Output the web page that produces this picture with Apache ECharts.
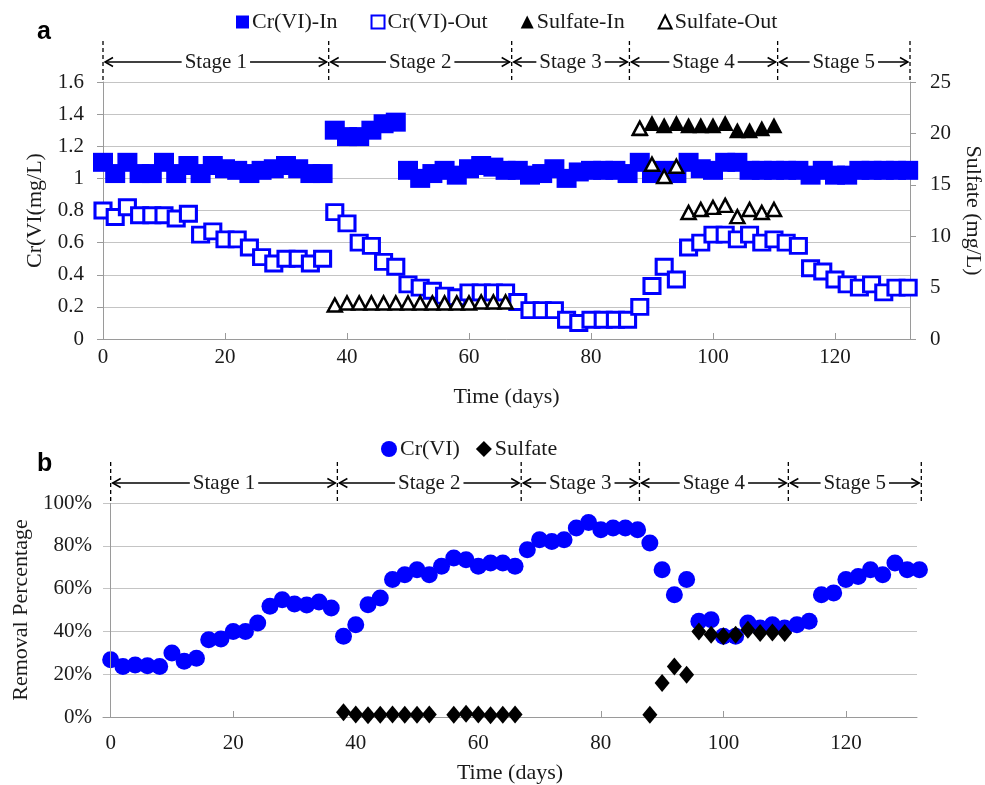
<!DOCTYPE html>
<html><head><meta charset="utf-8">
<script src="https://cdn.jsdelivr.net/npm/echarts@6/dist/echarts.min.js"></script>
<style>html,body{margin:0;padding:0;background:#fff}#main{width:985px;height:785px}</style>
</head><body><div id="main"></div>
<script>
// ---- data ----
const days = [0,2,4,6,8,10,12,14,16,18,20,22,24,26,28,30,32,34,36,38,40,42,44,46,48,50,52,54,56,58,60,62,64,66,68,70,72,74,76,78,80,82,84,86,88,90,92,94,96,98,100,102,104,106,108,110,112,114,116,118,120,122,124,126,128,130,132];
const crIn = [1.10,1.03,1.10,1.03,1.03,1.10,1.03,1.08,1.03,1.08,1.06,1.05,1.03,1.05,1.06,1.08,1.06,1.03,1.03,
  1.30,1.26,1.26,1.30,1.34,1.35,
  1.05,1.00,1.03,1.05,1.02,1.06,1.08,1.07,1.05,1.05,1.02,1.03,1.06,1.00,1.04,1.05,1.05,1.05,1.03,
  1.10,1.03,1.05,1.03,1.10,1.06,1.05,1.10,1.10,1.05,1.05,1.05,1.05,1.05,1.02,1.05,1.02,1.02,1.05,1.05,1.05,1.05,1.05];
const crOut = [0.80,0.76,0.82,0.77,0.77,0.77,0.75,0.78,0.65,0.67,0.62,0.62,0.57,0.51,0.47,0.50,0.50,0.47,0.50,
  0.79,0.72,0.60,0.58,0.48,0.45,0.34,0.32,0.30,0.27,0.26,0.29,0.29,0.29,0.29,
  0.23,0.18,0.18,0.18,0.12,0.10,0.12,0.12,0.12,0.12,
  0.20,0.33,0.45,0.37,0.57,0.60,0.65,0.65,0.62,0.65,0.60,0.62,0.60,0.58,0.44,0.42,0.37,0.34,0.32,0.34,0.29,0.32,0.32];
const sulfInDays = [88,90,92,94,96,98,100,102,104,106,108,110];
const sulfIn = [20.5,21.0,20.8,21.0,20.8,20.8,20.8,21.0,20.3,20.3,20.5,20.8];
const sulfOutDays = [38,40,42,44,46,48,50,52,54,56,58,60,62,64,66,88,90,92,94,96,98,100,102,104,106,108,110];
const sulfOut = [3.3,3.5,3.5,3.5,3.5,3.5,3.5,3.5,3.5,3.5,3.5,3.5,3.6,3.6,3.6,20.5,17.0,15.8,16.8,12.3,12.6,12.8,13.0,11.9,12.6,12.3,12.6];
const remCr = [26.8,23.6,24.3,24.0,23.6,29.9,26.0,27.5,36.1,36.5,40.0,40.0,43.9,51.7,54.8,52.8,52.3,53.7,50.9,
  37.7,43.1,52.5,55.6,64.2,66.5,68.8,66.5,70.4,74.3,73.5,70.4,72.0,72.0,70.4,
  78.2,82.8,82.0,82.8,88.3,90.9,87.5,88.3,88.3,87.5,
  81.3,68.8,57.1,64.2,44.7,45.4,37.7,37.7,43.9,41.6,43.1,41.6,43.1,44.7,57.1,58.0,64.2,65.7,68.8,66.5,72.0,68.8,68.8];
const remSulfDays = [38,40,42,44,46,48,50,52,56,58,60,62,64,66,88,90,92,94,96,98,100,102,104,106,108,110];
const remSulf = [2.2,1.2,0.8,1.0,1.2,1.0,1.0,1.2,1.0,1.5,1.2,0.8,1.0,1.2,1.0,15.9,23.6,19.8,40.0,38.4,37.7,38.4,40.8,39.2,39.5,39.2];
const stageBounds = [0,37,67,86.3,110.6,132.3];
const stageNames = ['Stage 1','Stage 2','Stage 3','Stage 4','Stage 5'];
const xTicks = [0,20,40,60,80,100,120];

// ---- chart ----
const FONT = '"Liberation Serif","Times New Roman",serif';
const pair = (xs, ys) => xs.map((x, i) => [x, ys[i]]);
const lbl = {fontFamily: FONT, fontSize: 21, color: '#1a1a1a'};
const nm = {fontFamily: FONT, fontSize: 22, color: '#1a1a1a'};
const gridCol = '#c4c4c4', axisCol = '#9a9a9a';
const BLUE = '#0000ff';

const chart = echarts.init(document.getElementById('main'));
const option = {
  animation: false,
  title: [
    {text: 'a', left: 32, top: 15, textStyle: {fontFamily: '"Liberation Sans",Arial,sans-serif', fontWeight: 'bold', fontSize: 25, color: '#000'}},
    {text: 'b', left: 32, top: 447, textStyle: {fontFamily: '"Liberation Sans",Arial,sans-serif', fontWeight: 'bold', fontSize: 25, color: '#000'}}
  ],
  legend: [
    {data: ['Cr(VI)-In','Cr(VI)-Out','Sulfate-In','Sulfate-Out'], left: 231, top: 6, itemWidth: 13, itemHeight: 13, itemGap: 33,
     textStyle: {fontFamily: FONT, fontSize: 22, color: '#1a1a1a', padding: [0,0,0,-2]}},
    {data: ['Cr(VI)','Sulfate'], left: 376, top: 433, itemWidth: 16, itemHeight: 16, itemGap: 16,
     textStyle: {fontFamily: FONT, fontSize: 22, color: '#1a1a1a', padding: [0,0,0,-2]}}
  ],
  grid: [
    {left: 103, top: 82, width: 807, height: 257, outerBoundsMode: 'none'},
    {left: 103, top: 503, width: 814, height: 214, outerBoundsMode: 'none'}
  ],
  xAxis: [
    {type: 'value', gridIndex: 0, min: 0, max: 132.3, splitLine: {show: false},
     axisLine: {lineStyle: {color: axisCol}}, axisTick: {inside: true, length: 6, customValues: xTicks, lineStyle: {color: axisCol}},
     axisLabel: Object.assign({customValues: xTicks, margin: 8}, lbl),
     name: 'Time (days)', nameLocation: 'middle', nameGap: 47, nameTextStyle: nm},
    {type: 'value', gridIndex: 1, min: -1.25, max: 131.6, splitLine: {show: false},
     axisLine: {lineStyle: {color: axisCol}}, axisTick: {inside: true, length: 6, customValues: xTicks, lineStyle: {color: axisCol}},
     axisLabel: Object.assign({customValues: xTicks, margin: 16}, lbl),
     name: 'Time (days)', nameLocation: 'middle', nameGap: 45, nameTextStyle: nm}
  ],
  yAxis: [
    {type: 'value', gridIndex: 0, min: 0, max: 1.6, interval: 0.2,
     axisLine: {show: true, lineStyle: {color: axisCol}}, axisTick: {show: true, length: 6, lineStyle: {color: axisCol}},
     splitLine: {lineStyle: {color: gridCol, width: 1.2}},
     axisLabel: Object.assign({margin: 19}, lbl),
     name: 'Cr(VI(mg/L)', nameLocation: 'middle', nameGap: 57, nameTextStyle: nm},
    {type: 'value', gridIndex: 0, position: 'right', min: 0, max: 25, interval: 5,
     axisLine: {show: true, lineStyle: {color: axisCol}}, axisTick: {show: true, length: 6, lineStyle: {color: axisCol}},
     splitLine: {show: false},
     axisLabel: Object.assign({margin: 20}, lbl),
     name: 'Sulfate (mg/L)', nameLocation: 'middle', nameGap: 47, nameRotate: -90, nameTextStyle: nm},
    {type: 'value', gridIndex: 1, min: 0, max: 100, interval: 20,
     axisLine: {show: false}, axisTick: {show: false},
     splitLine: {lineStyle: {color: gridCol, width: 1.2}},
     axisLabel: Object.assign({margin: 11, formatter: '{value}%'}, lbl),
     name: 'Removal Percentage', nameLocation: 'middle', nameGap: 70, nameTextStyle: nm}
  ],
  series: [
    {name: 'Cr(VI)-In', type: 'scatter', xAxisIndex: 0, yAxisIndex: 0, clip: false, symbol: 'rect', symbolSize: [20,19],
     itemStyle: {color: BLUE, opacity: 1}, data: pair(days, crIn)},
    {name: 'Cr(VI)-Out', type: 'scatter', xAxisIndex: 0, yAxisIndex: 0, clip: false, symbol: 'rect', symbolSize: [16,15],
     itemStyle: {color: '#fff', borderColor: BLUE, borderWidth: 3, opacity: 1}, data: pair(days, crOut)},
    {name: 'Sulfate-In', type: 'scatter', xAxisIndex: 0, yAxisIndex: 1, clip: false, symbol: 'triangle', symbolSize: [17,16],
     itemStyle: {color: '#000', opacity: 1}, data: pair(sulfInDays, sulfIn)},
    {name: 'Sulfate-Out', type: 'scatter', xAxisIndex: 0, yAxisIndex: 1, clip: false, symbol: 'triangle', symbolSize: [14,13],
     itemStyle: {color: '#fff', borderColor: '#000', borderWidth: 2.5, opacity: 1}, data: pair(sulfOutDays, sulfOut)},
    {name: 'Cr(VI)', type: 'scatter', xAxisIndex: 1, yAxisIndex: 2, clip: false, symbol: 'circle', symbolSize: 17,
     itemStyle: {color: BLUE, opacity: 1}, data: pair(days, remCr),
     markLine: {silent: true, symbol: 'none', label: {show: false}, lineStyle: {color: axisCol, type: 'solid', width: 1}, data: [{xAxis: 0}]}},
    {name: 'Sulfate', type: 'scatter', xAxisIndex: 1, yAxisIndex: 2, clip: false, symbol: 'diamond', symbolSize: [15,18],
     itemStyle: {color: '#000', opacity: 1}, data: pair(remSulfDays, remSulf)}
  ]
};
chart.setOption(option);

// ---- stage annotations (positions from the axes) ----
function stageGraphics() {
  const els = [];
  const rows = [
    {xi: 0, top: chart.convertToPixel({yAxisIndex: 0}, 1.6)},
    {xi: 1, top: chart.convertToPixel({yAxisIndex: 2}, 100)}
  ];
  rows.forEach(r => {
    const px = stageBounds.map(b => chart.convertToPixel({xAxisIndex: r.xi}, b));
    const yT = r.top - 41, yM = r.top - 20;
    px.forEach(x => {
      els.push({type: 'line', silent: true, z: 10, shape: {x1: x, y1: yT, x2: x, y2: r.top},
        style: {stroke: '#000', lineWidth: 1.3, lineDash: [4, 3]}});
    });
    for (let i = 0; i < stageNames.length; i++) {
      const x1 = px[i] + 2, x2 = px[i + 1] - 2;
      els.push({type: 'line', silent: true, z: 10, shape: {x1: x1, y1: yM, x2: x2, y2: yM}, style: {stroke: '#000', lineWidth: 1.5}});
      els.push({type: 'polyline', silent: true, z: 10, shape: {points: [[x1 + 8, yM - 4.5], [x1, yM], [x1 + 8, yM + 4.5]]}, style: {stroke: '#000', fill: null, lineWidth: 1.5}});
      els.push({type: 'polyline', silent: true, z: 10, shape: {points: [[x2 - 8, yM - 4.5], [x2, yM], [x2 - 8, yM + 4.5]]}, style: {stroke: '#000', fill: null, lineWidth: 1.5}});
      els.push({type: 'text', silent: true, z: 11, style: {text: stageNames[i], x: (px[i] + px[i + 1]) / 2, y: yM,
        align: 'center', verticalAlign: 'middle', font: '21px ' + FONT, fill: '#1a1a1a', backgroundColor: '#fff', padding: [0, 3]}});
    }
  });
  return els;
}
chart.setOption({graphic: stageGraphics()});
</script>
</body></html>
